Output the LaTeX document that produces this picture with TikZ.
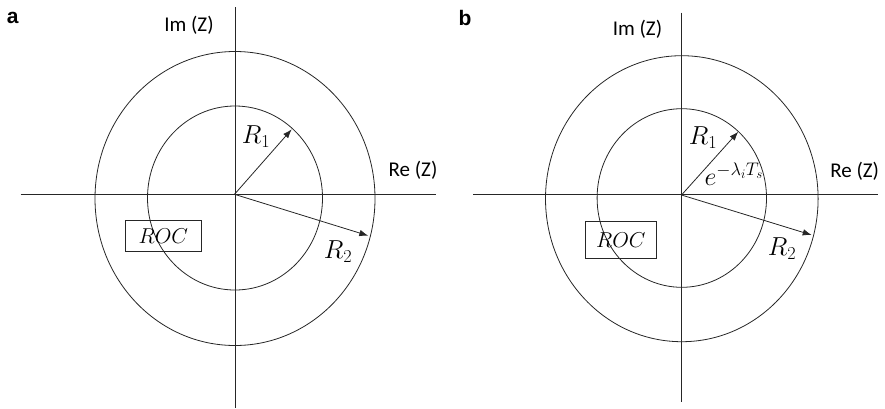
\RequirePackage{fix-cm}
\documentclass[tikz,border=0pt]{standalone}
\usepackage{fontspec}
\setmainfont{Carlito}
\newfontfamily\panelfont{Liberation Sans}
\usetikzlibrary{arrows.meta}
\tikzset{
  ln/.style={draw=black!85, line width=0.8pt},
  arr/.style={ln, -{Latex[length=9pt,width=6.5pt]}},
  axlabel/.style={font=\fontsize{21}{25}\selectfont, inner sep=0pt},
  mlabel/.style={font=\fontsize{26}{30}\selectfont, inner sep=0pt},
  panel/.style={font=\panelfont\bfseries\fontsize{21}{25}\selectfont, inner sep=0pt},
  rocbox/.style={ln, inner sep=0pt, font=\fontsize{21.5}{25}\selectfont}
}
\begin{document}
\begin{tikzpicture}[x=1pt,y=-1pt]
\useasboundingbox (0,0) rectangle (885,408);
% ---------- panel a ----------
\node[panel] (pa) at (12.7,17.5) {a};
\coordinate (aL) at (20.7,194);
\coordinate (aR) at (436,194);
\coordinate (aT) at (235,7);
\coordinate (aB) at (235,408);
\draw[ln] (aL) -- (aR);
\draw[ln] (aT) -- (aB);
\draw[ln] (235,198.5) ellipse [x radius=140, y radius=147];
\draw[ln] (235,198) ellipse [x radius=87.5, y radius=92];
\coordinate (aO) at (234.5,194.3);
\coordinate (aR1) at (291.7,129.3);
\coordinate (aR2) at (368.3,235.7);
\draw[arr] (aO) -- (aR1);
\draw[arr] (aO) -- (aR2);
\node[axlabel] (aim) at (189,25) {Im (Z)};
\node[axlabel] (are) at (413,170.5) {Re (Z)};
\node[mlabel] (ar1) at (256,137) {$R_1$};
\node[mlabel] (ar2) at (338,252) {$R_2$};
\node[rocbox, minimum width=76.7pt, minimum height=31.4pt] (aroc) at (163.35,236) {$ROC$};
% ---------- panel b ----------
\node[panel] (pb) at (465,18) {b};
\coordinate (bL) at (473.3,194.5);
\coordinate (bR) at (878,194.5);
\coordinate (bT) at (681.5,12.7);
\coordinate (bB) at (681.5,402);
\draw[ln] (bL) -- (bR);
\draw[ln] (bT) -- (bB);
\draw[ln] (681.8,198.7) ellipse [x radius=136.3, y radius=143];
\draw[ln] (681.8,198) ellipse [x radius=84.7, y radius=89.3];
\coordinate (bO) at (681.5,195);
\coordinate (bR1) at (738.3,131.7);
\coordinate (bR2) at (811.7,235);
\draw[arr] (bO) -- (bR1);
\draw[arr] (bO) -- (bR2);
\node[axlabel] (bim) at (637.5,29.3) {Im (Z)};
\node[axlabel] (bre) at (854.7,171.7) {Re (Z)};
\node[mlabel] (br1) at (703,138) {$R_1$};
\node[mlabel] (br2) at (782,249) {$R_2$};
\node[mlabel] (bexp) at (734,174) {$e^{-\lambda_i T_s}$};
\node[rocbox, minimum width=70.3pt, minimum height=37.3pt] (broc) at (620.85,239.65) {$ROC$};
\end{tikzpicture}
\end{document}
